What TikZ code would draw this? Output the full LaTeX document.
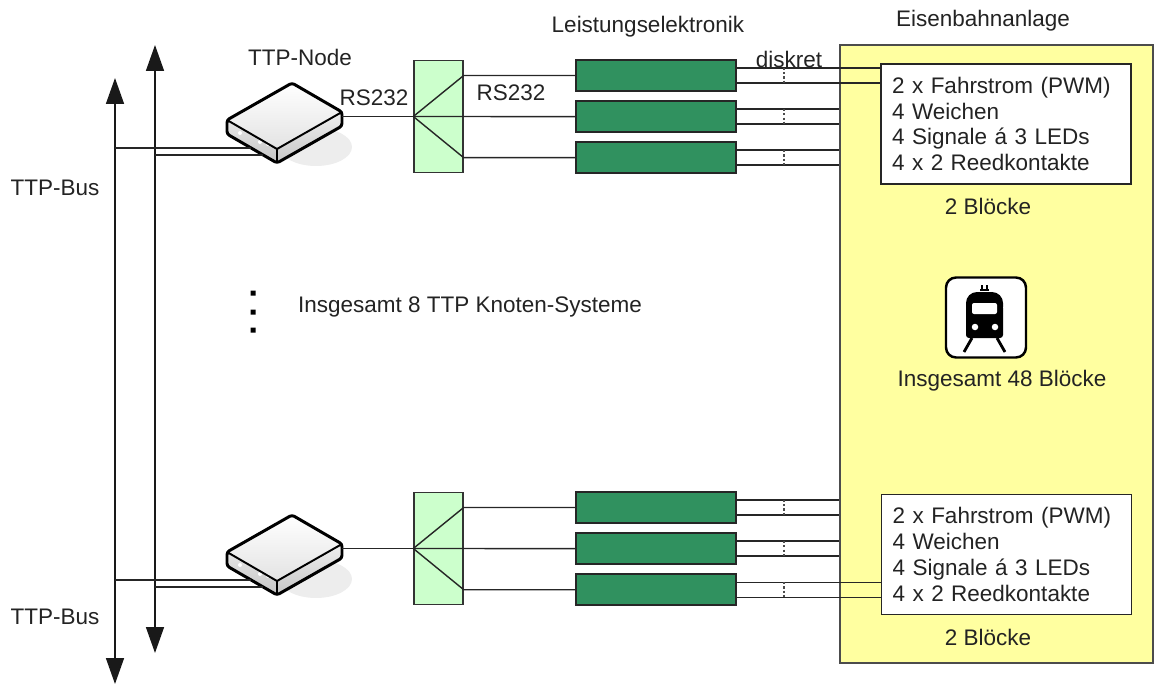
\documentclass[tikz,border=0pt]{standalone}
\usepackage{fontspec}
\setmainfont{Liberation Sans}
\usetikzlibrary{shapes,arrows.meta,positioning,calc,shadings}
\definecolor{splitgreen}{RGB}{204,255,204}
\definecolor{powergreen}{RGB}{48,145,95}
\definecolor{anlageyellow}{RGB}{255,255,160}
\definecolor{textgray}{RGB}{35,35,35}

\begin{document}
\begin{tikzpicture}[
    x=0.02cm, y=-0.02cm,
    node distance=0.16cm,
    every node/.style={font=\fontsize{12.8}{14.7}\selectfont, text=textgray},
    anlagebox/.style={rectangle, draw=black!70, line width=0.8pt, fill=anlageyellow, minimum width=6.26cm, minimum height=12.36cm},
    splitbox/.style={rectangle, draw=black!80, line width=0.8pt, fill=splitgreen, minimum width=0.98cm, minimum height=2.24cm},
    powerbox/.style={rectangle, draw=black!85, line width=1.2pt, fill=powergreen, minimum width=3.2cm, minimum height=0.62cm},
    blockbox/.style={rectangle, draw=black!85, line width=1.1pt, fill=white, text width=4.56cm, inner xsep=0.22cm, minimum height=2.4cm, align=left},
    wire/.style={draw=black!85, line width=0.8pt},
    bus/.style={draw=black!90, line width=0.9pt, {Triangle[width=3.6mm,length=5.2mm]}-{Triangle[width=3.6mm,length=5.2mm]}},
    dotmark/.style={draw=black!70, line width=0.7pt, dash pattern=on 1.2pt off 1.2pt},
    ttpbox/.pic={
        % shadow
        \fill[gray!14] (24,64) ellipse[x radius=0.72cm, y radius=0.38cm];
        % faces
        \fill[top color=white, bottom color=gray!22] (0,0) -- (50,29) -- (-15,66) -- (-65,37) -- cycle;
        \fill[top color=gray!12, bottom color=gray!45] (50,29) -- (50,43) -- (-15,80) -- (-15,66) -- cycle;
        \fill[top color=gray!20, bottom color=gray!45] (-65,37) -- (-15,66) -- (-15,80) -- (-65,51) -- cycle;
        \fill[white] (-52,50) circle[radius=0.04cm] (-32,59) circle[radius=0.04cm] (-24,61) circle[radius=0.04cm];
        % outline
        \draw[line width=1.7pt, rounded corners=1.5pt, line join=round] (-65,37) -- (0,0) -- (50,29) -- (50,43) -- (-15,80) -- (-65,51) -- cycle;
        \draw[line width=1.1pt] (-65,37) -- (-15,66) -- (50,29) (-15,66) -- (-15,80);
        \coordinate (-out) at (50,33.5);
        \coordinate (-tapa) at (-41,65);
        \coordinate (-tapb) at (-29,72);
    }
]
\useasboundingbox (0,0) rectangle (1157,686);

% Eisenbahnanlage
\node[anlagebox] (anlage) at (996.5,354) {};
\node (anlagetxt) at (983,21) {Eisenbahnanlage};

% TTP bus
\coordinate (lbus top) at (115,78);
\coordinate (lbus bot) at (115,684);
\coordinate (rbus top) at (155,45);
\coordinate (rbus bot) at (155,653);
\draw[bus] (lbus bot) -- (lbus top);
\draw[bus] (rbus bot) -- (rbus top);
\node (bus1) at (55,188) {TTP-Bus};
\node (bus2) at (55,617) {TTP-Bus};

% Upper node system
\pic (dev1) at (292,83) {ttpbox};
\node[splitbox] (split1) at (438.5,116.5) {};
\node[powerbox] (pb1) at (656,75.5) {};
\node[powerbox, below=of pb1] (pb2) {};
\node[powerbox, below=of pb2] (pb3) {};
\node[blockbox] (blk1) at (1006,124) {2 x Fahrstrom (PWM)\\4 Weichen\\4 Signale á 3 LEDs\\4 x 2 Reedkontakte};
\node (bl1) at (988,206) {2 Blöcke};

% Labels
\node (ttpnode) at (300,57) {TTP-Node};
\node (rs1) at (374,98) {RS232};
\node (rs2) at (511,93) {RS232};
\node (lel) at (648,27) {Leistungselektronik};
\node (disk) at (789,59) {diskret};

% Connections upper system
\draw[wire] (lbus top |- dev1-tapa) -- (dev1-tapa);
\draw[wire] (rbus top |- dev1-tapb) -- (dev1-tapb);
\draw[wire] (dev1-out) -- (split1.west);
\draw[wire] (split1.west) -- (pb2.west);
\draw[wire] (split1.west) -- (split1.east |- pb1.west) -- (pb1.west);
\draw[wire] (split1.west) -- (split1.east |- pb3.west) -- (pb3.west);
\draw[wire] ($(pb1.east)+(0,-7.5)$) -- ($(pb1.east -| blk1.west)+(0,-7.5)$);
\draw[wire] ($(pb1.east)+(0,7.5)$) -- ($(pb1.east -| blk1.west)+(0,7.5)$);
\draw[wire] ($(pb2.east)+(0,-7.5)$) -- ($(pb2.east -| anlage.west)+(0,-7.5)$);
\draw[wire] ($(pb2.east)+(0,7.5)$) -- ($(pb2.east -| anlage.west)+(0,7.5)$);
\draw[wire] ($(pb3.east)+(0,-7.5)$) -- ($(pb3.east -| anlage.west)+(0,-7.5)$);
\draw[wire] ($(pb3.east)+(0,7.5)$) -- ($(pb3.east -| anlage.west)+(0,7.5)$);
\draw[dotmark] ($(pb1.east)+(47,-7.5)$) -- ($(pb1.east)+(47,7.5)$);
\draw[dotmark] ($(pb2.east)+(47,-7.5)$) -- ($(pb2.east)+(47,7.5)$);
\draw[dotmark] ($(pb3.east)+(47,-7.5)$) -- ($(pb3.east)+(47,7.5)$);

% Lower node system
\pic (dev2) at (292,515) {ttpbox};
\node[splitbox] (split2) at (438.5,548.5) {};
\node[powerbox] (pb4) at (656,507.5) {};
\node[powerbox, below=of pb4] (pb5) {};
\node[powerbox, below=of pb5] (pb6) {};
\node[blockbox] (blk2) at (1006.5,554.5) {2 x Fahrstrom (PWM)\\4 Weichen\\4 Signale á 3 LEDs\\4 x 2 Reedkontakte};
\node (bl2) at (988,637) {2 Blöcke};

% Connections lower system
\draw[wire] (lbus top |- dev2-tapa) -- (dev2-tapa);
\draw[wire] (rbus top |- dev2-tapb) -- (dev2-tapb);
\draw[wire] (dev2-out) -- (split2.west);
\draw[wire] (split2.west) -- (pb5.west);
\draw[wire] (split2.west) -- (split2.east |- pb4.west) -- (pb4.west);
\draw[wire] (split2.west) -- (split2.east |- pb6.west) -- (pb6.west);
\draw[wire] ($(pb4.east)+(0,-7.5)$) -- ($(pb4.east -| anlage.west)+(0,-7.5)$);
\draw[wire] ($(pb4.east)+(0,7.5)$) -- ($(pb4.east -| anlage.west)+(0,7.5)$);
\draw[wire] ($(pb5.east)+(0,-7.5)$) -- ($(pb5.east -| anlage.west)+(0,-7.5)$);
\draw[wire] ($(pb5.east)+(0,7.5)$) -- ($(pb5.east -| anlage.west)+(0,7.5)$);
\draw[wire] ($(pb6.east)+(0,-7.5)$) -- ($(pb6.east -| blk2.west)+(0,-7.5)$);
\draw[wire] ($(pb6.east)+(0,7.5)$) -- ($(pb6.east -| blk2.west)+(0,7.5)$);
\draw[dotmark] ($(pb4.east)+(47,-7.5)$) -- ($(pb4.east)+(47,7.5)$);
\draw[dotmark] ($(pb5.east)+(47,-7.5)$) -- ($(pb5.east)+(47,7.5)$);
\draw[dotmark] ($(pb6.east)+(47,-7.5)$) -- ($(pb6.east)+(47,7.5)$);

% Further systems
\fill[black] (250.5,290.5) rectangle ++(5,5) (250.5,309.5) rectangle ++(5,5) (250.5,327.5) rectangle ++(5,5);
\node (allnodes) at (470,307) {Insgesamt 8 TTP Knoten-Systeme};

% Train sign
\node[draw=black, line width=1.4pt, fill=white, rounded corners=0.2cm, minimum size=1.6cm] (sign) at (986,317.5) {};
\fill[black, rounded corners=0.22cm] (966,318) -- (966,292) -- (1003,292) -- (1003,318) -- cycle;
\fill[black, rounded corners=0.06cm] (966,305) rectangle (1003,338);
\fill[white, rounded corners=0.04cm] (972,303) rectangle (997,314);
\fill[white] (975,327) circle[radius=0.065cm] (995,327) circle[radius=0.065cm];
\draw[line width=0.8pt] (980,290) -- (989,290) (982,285) -- (982,290) (987,285) -- (987,290);
\draw[line width=1.6pt] (972,338) -- (964,352) (997,338) -- (1005,352);
\node (total) at (1002,381) {Insgesamt 48 Blöcke};

\end{tikzpicture}
\end{document}
